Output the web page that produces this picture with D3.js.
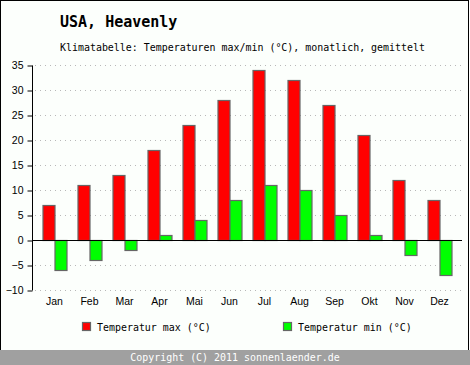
<!DOCTYPE html>
<html><head><meta charset="utf-8">
<script src="https://cdn.jsdelivr.net/npm/d3@7"></script>
<style>
html,body{margin:0;padding:0;background:#fff;}
svg{display:block;}
</style></head>
<body>
<script>
const months = ["Jan","Feb","Mar","Apr","Mai","Jun","Jul","Aug","Sep","Okt","Nov","Dez"];
const tempMax = [7, 11, 13, 18, 23, 28, 34, 32, 27, 21, 12, 8];
const tempMin = [-6, -4, -2, 1, 4, 8, 11, 10, 5, 1, -3, -7];
const yTicks = [-10, -5, 0, 5, 10, 15, 20, 25, 30, 35];
const seriesNames = ["Temperatur max (°C)", "Temperatur min (°C)"];
const seriesColors = ["#ff0000", "#00ff00"];
const title = "USA, Heavenly";
const subtitle = "Klimatabelle: Temperaturen max/min (°C), monatlich, gemittelt";
const footer = "Copyright (C) 2011 sonnenlaender.de";

const W = 470, H = 365;
const mono = "'DejaVu Sans Mono', monospace";
const svg = d3.select("body").append("svg").attr("width", W).attr("height", H);

svg.append("rect").attr("x",0.5).attr("y",0.5).attr("width",W-2).attr("height",H-1)
  .attr("fill","#fcfffc").attr("stroke","#000").attr("stroke-width",1);

svg.append("text").attr("x",60).attr("y",27).attr("font-family",mono).attr("font-weight","bold")
  .attr("font-size",15).attr("fill","#000").text(title);
svg.append("text").attr("x",60).attr("y",51).attr("font-family",mono)
  .attr("font-size",9.95).attr("fill","#000").text(subtitle);

const x = d3.scaleBand().domain(months).range([37, 457]).padding(0);
const y = d3.scaleLinear().domain([-10, 35]).range([290, 65]);
const axisX = 32, plotRight = 462;
const bw = 12;

// grid
svg.append("g").selectAll("line").data(yTicks.filter(t => t !== 0)).join("line")
  .attr("x1", axisX+3).attr("x2", plotRight).attr("y1", d => y(d)+0.5).attr("y2", d => y(d)+0.5)
  .attr("stroke","#b8b8b8").attr("stroke-dasharray","1,4");

// bars
const g = svg.append("g");
g.selectAll("rect.max").data(tempMax).join("rect").attr("class","max")
  .attr("x",(d,i)=>x(months[i])+x.bandwidth()/2-bw+0.5)
  .attr("y",d=>Math.min(y(d),y(0))+0.5)
  .attr("width",bw).attr("height",d=>Math.abs(y(d)-y(0)))
  .attr("fill",seriesColors[0]).attr("stroke","#666").attr("stroke-width",1.2);
g.selectAll("rect.min").data(tempMin).join("rect").attr("class","min")
  .attr("x",(d,i)=>x(months[i])+x.bandwidth()/2+0.5)
  .attr("y",d=>Math.min(y(d),y(0))+0.5)
  .attr("width",bw).attr("height",d=>Math.abs(y(d)-y(0)))
  .attr("fill",seriesColors[1]).attr("stroke","#666").attr("stroke-width",1.2);

// zero line
svg.append("line").attr("x1",axisX).attr("x2",plotRight).attr("y1",y(0)+0.5).attr("y2",y(0)+0.5)
  .attr("stroke","#000").attr("stroke-width",1);

// y axis
const yAxis = d3.axisLeft(y).tickValues(yTicks).tickSize(5).tickPadding(4).tickFormat(d3.format("d"));
const ya = svg.append("g").attr("transform",`translate(${axisX+0.5},0.5)`).call(yAxis);
ya.select(".domain").attr("d",`M0,${y(35)}V${y(-10)}`).attr("stroke","#000");
ya.selectAll("text").attr("font-family","'Liberation Sans', Arial, sans-serif").attr("font-size",10.5).attr("fill","#000");
ya.selectAll(".tick line").attr("stroke","#000");

// x labels
svg.append("g").selectAll("text").data(months).join("text")
  .attr("x",d=>x(d)+x.bandwidth()/2).attr("y",305).attr("text-anchor","middle")
  .attr("font-family","'Liberation Sans', Arial, sans-serif").attr("font-size",10.5).attr("fill","#000").text(d=>d);

// legend
const legX = [82, 283];
seriesNames.forEach((n,i)=>{
  svg.append("rect").attr("x",legX[i]+0.5).attr("y",322.5).attr("width",8).attr("height",8)
    .attr("fill",seriesColors[i]).attr("stroke","#666").attr("stroke-width",1.2);
  svg.append("text").attr("x",legX[i]+15).attr("y",331).attr("font-family",mono)
    .attr("font-size",9.95).attr("fill","#000").text(n);
});

// footer
svg.append("rect").attr("x",0).attr("y",350).attr("width",W).attr("height",15).attr("fill","#a0a0a0");
svg.append("text").attr("x",235).attr("y",361).attr("text-anchor","middle").attr("font-family",mono)
  .attr("font-size",9.95).attr("fill","#fff").text(footer);
</script>
</body></html>
